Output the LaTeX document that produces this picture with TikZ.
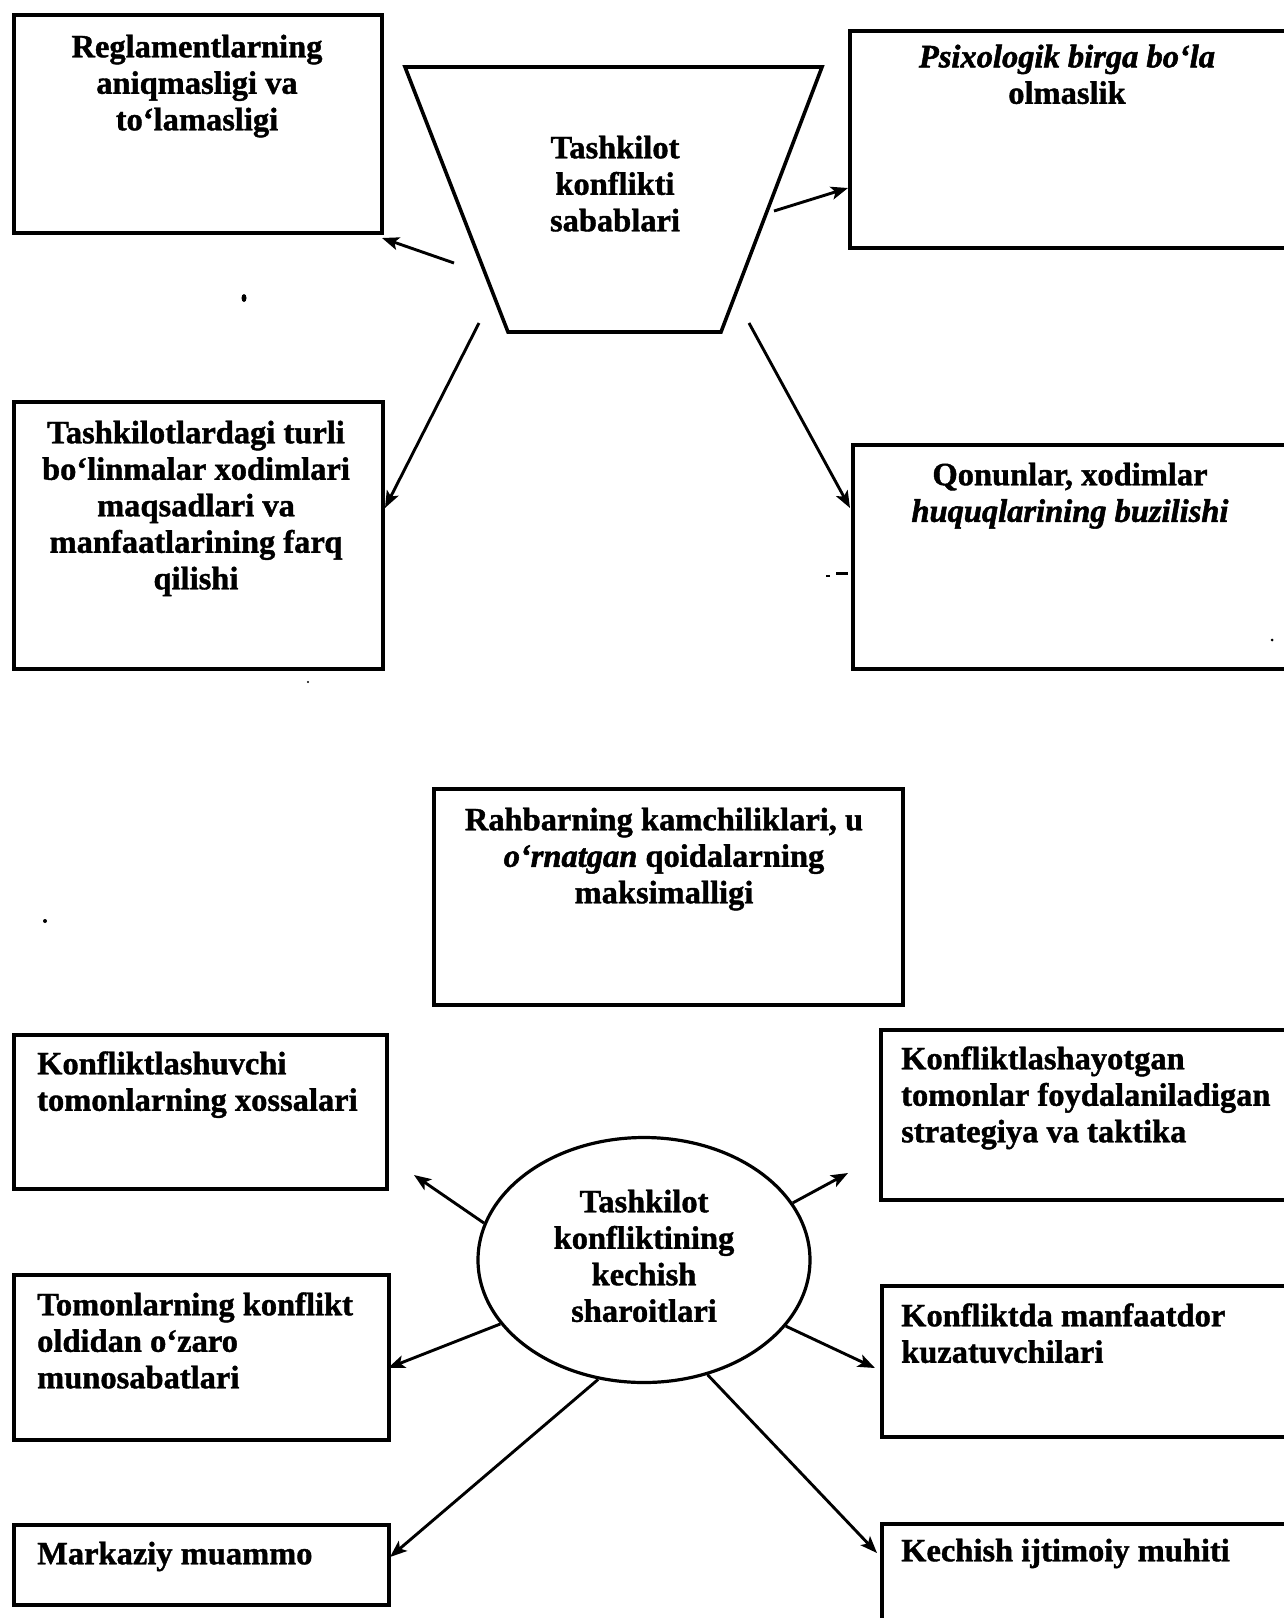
\documentclass[tikz,border=0pt]{standalone}
\usepackage{fontspec}
\setmainfont{Liberation Serif}[
  BoldFont={* Bold}, BoldItalicFont={* Bold Italic},
  BoldFeatures={FakeBold=1.2}, BoldItalicFeatures={FakeBold=1.6}]
\usetikzlibrary{arrows.meta,shapes.geometric}

\begin{document}
\begin{tikzpicture}[x=1pt,y=-1pt,
  frame/.style={draw, line width=3.9pt, rectangle, inner sep=0pt, anchor=north west},
  txt/.style={font=\bfseries\fontsize{32.5}{36.5}\selectfont, inner sep=0pt, align=center, anchor=north},
  ltxt/.style={font=\bfseries\fontsize{32.5}{36.5}\selectfont, inner sep=0pt, align=left, anchor=north west},
  arr/.style={line width=2.9pt, -{Stealth[length=17pt,width=13pt,inset=4pt]}},
  speck/.style={fill=black, draw=none}
]
\useasboundingbox (0,0) rectangle (1284,1618);

% ---------- upper part: causes of conflict ----------
\coordinate (tzA) at (405,67);
\coordinate (tzB) at (822,67);
\coordinate (tzC) at (721,332);
\coordinate (tzD) at (508,332);
\draw[line width=3.6pt, line join=miter] (tzA) -- (tzB) -- (tzC) -- (tzD) -- cycle;
\node[txt] (tz) at (615,132.5) {\strut Tashkilot\\konflikti\\sabablari};

\node[frame, minimum width=368pt, minimum height=218pt] (b1) at (12,13) {};
\node[txt] (t1) at (197,31.5) {\strut Reglamentlarning\\aniqmasligi va\\to‘lamasligi};

\node[frame, minimum width=460pt, minimum height=217pt] (b2) at (848,29) {};
\node[txt] (t2) at (1067,41.5) {\strut\itshape Psixologik birga bo‘la\\olmaslik};

\node[frame, minimum width=369pt, minimum height=267pt] (b3) at (12,400) {};
\node[txt] (t3) at (196,417.5) {\strut Tashkilotlardagi turli\\bo‘linmalar xodimlari\\maqsadlari va\\manfaatlarining farq\\qilishi};

\node[frame, minimum width=460pt, minimum height=224pt] (b4) at (851,443) {};
\node[txt] (t4) at (1070,459.5) {\strut Qonunlar, xodimlar\\\itshape huquqlarining buzilishi};

\coordinate (s1) at (454,263);  \coordinate (e1) at (382,238);
\coordinate (s2) at (774,211);  \coordinate (e2) at (848,188);
\coordinate (s3) at (479,323);  \coordinate (e3) at (385,508);
\coordinate (s4) at (749,323);  \coordinate (e4) at (850,508);
\draw[arr] (s1) -- (e1);
\draw[arr] (s2) -- (e2);
\draw[arr] (s3) -- (e3);
\draw[arr] (s4) -- (e4);

% ---------- lower part: conditions of conflict ----------
\node[frame, minimum width=469pt, minimum height=216pt] (b5) at (432,787) {};
\node[txt] (t5) at (664,804.5) {\strut Rahbarning kamchiliklari, u\\{\itshape o‘rnatgan} qoidalarning\\maksimalligi};

\node[draw, ellipse, line width=3.2pt, minimum width=332pt, minimum height=245pt, inner sep=0pt] (el) at (644,1260) {};
\node[txt] (tel) at (644,1186.5) {\strut Tashkilot\\konfliktining\\kechish\\sharoitlari};

\node[frame, minimum width=373pt, minimum height=154pt] (b6) at (12,1033) {};
\node[ltxt] (t6) at (37,1048.5) {\strut Konfliktlashuvchi\\tomonlarning xossalari};

\node[frame, minimum width=430pt, minimum height=170pt] (b7) at (879,1028) {};
\node[ltxt] (t7) at (901,1043.5) {\strut Konfliktlashayotgan\\tomonlar foydalaniladigan\\strategiya va taktika};

\node[frame, minimum width=375pt, minimum height=165pt] (b8) at (12,1273) {};
\node[ltxt] (t8) at (37,1289.5) {\strut Tomonlarning konflikt\\oldidan o‘zaro\\munosabatlari};

\node[frame, minimum width=430pt, minimum height=151pt] (b9) at (880,1284) {};
\node[ltxt] (t9) at (901,1300.5) {\strut Konfliktda manfaatdor\\kuzatuvchilari};

\node[frame, minimum width=375pt, minimum height=80pt] (b10) at (12,1523) {};
\node[ltxt] (t10) at (37,1538.5) {\strut Markaziy muammo};

\node[frame, minimum width=430pt, minimum height=130pt] (b11) at (880,1522) {};
\node[ltxt] (t11) at (901,1535.5) {\strut Kechish ijtimoiy muhiti};

\coordinate (e6) at (414,1175);
\coordinate (e7) at (848,1173);
\coordinate (e8) at (388,1368);
\coordinate (e9) at (875,1368);
\coordinate (e10) at (390,1557);
\coordinate (e11) at (877,1553);
\draw[arr] (el.167) -- (e6);
\draw[arr] (el.21.5) -- (e7);
\draw[arr] (el.204) -- (e8);
\draw[arr] (el.335.6) -- (e9);
\draw[arr] (el.249.6) -- (e10);
\draw[arr] (el.299.4) -- (e11);

% ---------- small ink specks ----------
\fill[speck] (244,298) ellipse (2.5pt and 4pt);
\fill[speck] (45,921) circle (2pt);
\fill[speck] (826,575) rectangle (830,577);
\fill[speck] (836,572) rectangle (848,575);
\fill[speck] (1272,640) circle (1.5pt);
\fill[speck] (308,682) circle (1.2pt);
\end{tikzpicture}
\end{document}
